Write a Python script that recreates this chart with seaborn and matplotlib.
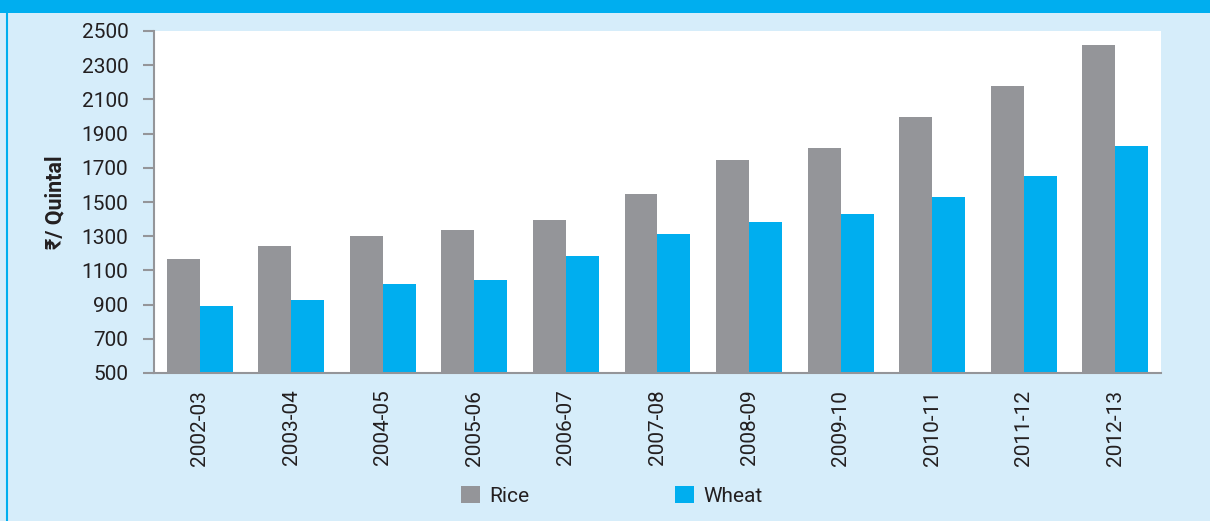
import matplotlib
matplotlib.use("Agg")

import matplotlib.pyplot as plt
import seaborn as sns
import pandas as pd
from matplotlib.patches import Rectangle
from matplotlib.lines import Line2D

# -------- data (Rs / quintal)
years = ["2002-03", "2003-04", "2004-05", "2005-06", "2006-07", "2007-08",
         "2008-09", "2009-10", "2010-11", "2011-12", "2012-13"]
rice = [1167, 1244, 1303, 1336, 1395, 1547, 1746, 1816, 1997, 2178, 2418]
wheat = [892, 927, 1020, 1044, 1184, 1313, 1383, 1430, 1529, 1652, 1827]
yticks = list(range(500, 2501, 200))

BG = "#d6edfa"
BLUE = "#00aeef"
GREY = "#949599"
TXT = "#231f20"
FONT = ["Roboto", "Noto Sans", "DejaVu Sans"]

df = pd.DataFrame({"Year": years, "Rice": rice, "Wheat": wheat})
df = df.melt(id_vars="Year", var_name="Crop", value_name="Value")

sns.set_style("white")
plt.rcParams["font.family"] = FONT

fig = plt.figure(figsize=(12.1, 5.21), dpi=100, facecolor=BG)
ax = fig.add_axes([154 / 1210, 1 - 373 / 521, (1161 - 154) / 1210, (373 - 31) / 521])
ax.set_facecolor("white")

sns.barplot(data=df, x="Year", y="Value", hue="Crop", hue_order=["Rice", "Wheat"],
            palette=[GREY, BLUE], width=0.72, linewidth=0, saturation=1,
            errorbar=None, ax=ax)

ax.set_ylim(500, 2500)
ax.set_xlim(-0.5, len(years) - 0.5)
ax.set_yticks(yticks)
ax.set_yticklabels([str(v) for v in yticks], fontsize=15, color=TXT)
ax.set_xticks(range(len(years)))
ax.set_xticklabels(years, rotation=90, fontsize=15, color=TXT, va="top")
ax.tick_params(axis="x", length=0, pad=12)
ax.tick_params(axis="y", length=8, width=1.5, color=GREY, pad=10.5, left=True)

for side in ["top", "right"]:
    ax.spines[side].set_visible(False)
for side in ["left", "bottom"]:
    ax.spines[side].set_color(GREY)
    ax.spines[side].set_linewidth(1.5)

ax.set_xlabel("")
ax.set_ylabel("₹/ Quintal", fontsize=15.5, fontweight="bold", color=TXT)
ax.yaxis.set_label_coords(-0.087, 0.5)

# -------- legend
handles, labels = ax.get_legend_handles_labels()
ax.legend_.remove()
fig.legend(handles, labels, loc="center", bbox_to_anchor=(612 / 1210, 1 - 496 / 521),
           ncol=2, frameon=False, fontsize=15, handlelength=0.9, handleheight=0.9,
           handletextpad=0.45, columnspacing=7.0, labelcolor=TXT)

# -------- frame decorations
fig.patches.append(Rectangle((0, 1 - 13 / 521), 1, 13 / 521, transform=fig.transFigure,
                             facecolor=BLUE, edgecolor="none", zorder=0))
fig.lines.append(Line2D([6.5 / 1210, 6.5 / 1210], [0, 1 - 13 / 521], transform=fig.transFigure,
                        color=BLUE, linewidth=1.5))

fig.savefig("out.png", dpi=100, facecolor=BG)
